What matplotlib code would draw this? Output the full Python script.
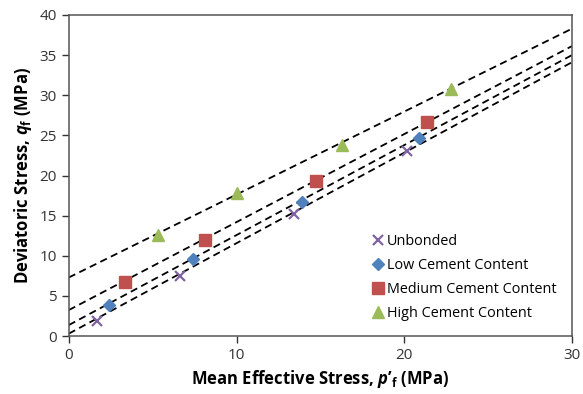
import matplotlib
matplotlib.use("Agg")
import matplotlib.pyplot as plt
import numpy as np

plt.rcParams['font.family'] = ['Open Sans', 'DejaVu Sans']
plt.rcParams['mathtext.fontset'] = 'custom'
plt.rcParams['mathtext.it'] = 'Open Sans:bold:italic'
plt.rcParams['mathtext.rm'] = 'Open Sans:bold'
plt.rcParams['mathtext.bf'] = 'Open Sans:bold'

# data (p'f, qf) in MPa
unbonded_p = [1.67, 6.62, 13.4, 20.15]
unbonded_q = [1.87, 7.48, 15.2, 23.05]
low_p = [2.39, 7.39, 13.9, 20.87]
low_q = [3.86, 9.6, 16.7, 24.7]
medium_p = [3.34, 8.1, 14.73, 21.35]
medium_q = [6.73, 11.96, 19.3, 26.7]
high_p = [5.3, 10.0, 16.3, 22.8]
high_q = [12.6, 17.8, 23.8, 30.8]

# trendlines (intercept, slope) as drawn in the reference
fit_intercepts = [0.3, 1.37, 3.24, 7.3]
fit_slopes = [1.127, 1.121, 1.096, 1.033]

series = [
    ("Unbonded", unbonded_p, unbonded_q, 'x', '#8064A2', 7, 1.6),
    ("Low Cement Content", low_p, low_q, 'D', '#4F81BD', 6.5, 0),
    ("Medium Cement Content", medium_p, medium_q, 's', '#C0504D', 8.5, 0),
    ("High Cement Content", high_p, high_q, '^', '#9BBB59', 9, 0),
]

fig = plt.figure(figsize=(5.83, 3.94), dpi=100)
ax = fig.add_axes([0.118, 0.147, 0.863, 0.815])

xs = np.array([0, 30])
for b, m in zip(fit_intercepts, fit_slopes):
    ax.plot(xs, b + m * xs, color='black', ls=(0, (4, 2.5)), lw=1.3, zorder=1)

for name, p, q, mk, col, ms, mew in series:
    if mk == 'x':
        ax.plot(p, q, ls='none', marker=mk, color=col, ms=ms, mew=mew, label=name, zorder=3)
    else:
        ax.plot(p, q, ls='none', marker=mk, color=col, ms=ms, mec=col, label=name, zorder=3)

ax.set_xlim(0, 30)
ax.set_ylim(0, 40)
ax.set_xticks([0, 10, 20, 30])
ax.set_yticks(np.arange(0, 41, 5))
ax.tick_params(direction='out', length=5, width=1, labelsize=11, colors='#333333')
for s in ax.spines.values():
    s.set_color('#555555')
    s.set_linewidth(1.1)

ax.set_xlabel("Mean Effective Stress, $p$\u2019$_{\\rm f}$ (MPa)", fontsize=12, fontweight='bold')
ax.set_ylabel(r"Deviatoric Stress, $q_{\rm f}$ (MPa)", fontsize=12, fontweight='bold')

ax.legend(loc='upper left', bbox_to_anchor=(0.588, 0.34), frameon=False, fontsize=10.4,
          handlelength=0.8, handletextpad=0.25, labelspacing=0.62, borderpad=0)

fig.savefig('out.png', dpi=100)
